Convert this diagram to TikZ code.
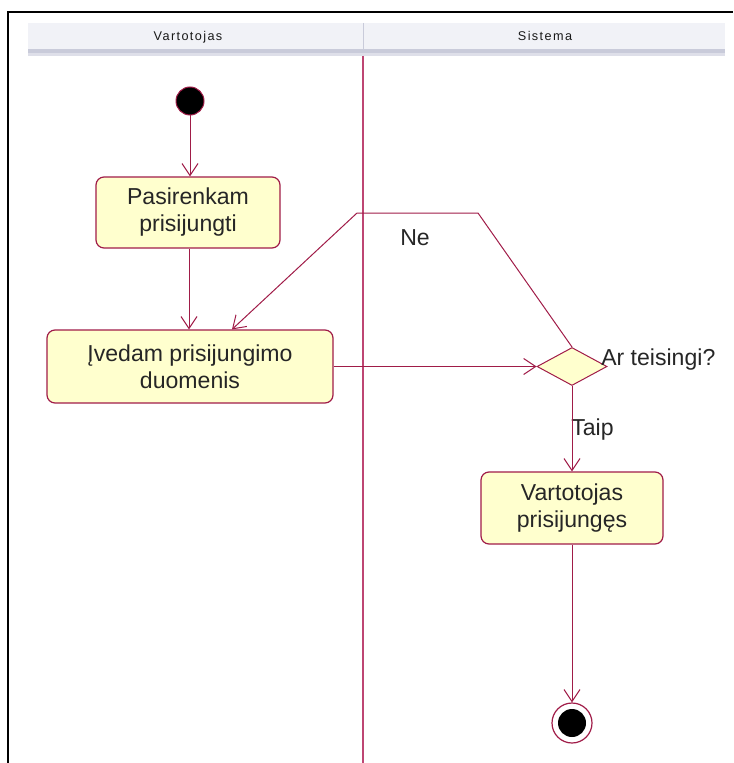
\documentclass[tikz,border=0pt]{standalone}
\usepackage{fontspec}
\setmainfont{Liberation Sans}
\usetikzlibrary{shapes.geometric,arrows.meta}
\definecolor{umlline}{RGB}{160,28,72}
\definecolor{laneline}{RGB}{190,70,115}
\definecolor{actfill}{RGB}{255,255,206}
\definecolor{headfill}{RGB}{241,242,247}
\definecolor{headedge}{RGB}{201,203,218}
\definecolor{headedgelt}{RGB}{222,223,233}
\tikzset{
  x=0.75pt, y=-0.75pt,
  every node/.style={font=\fontsize{17.3}{20.25}\selectfont, text=black!85},
  action/.style={draw=umlline, line width=0.9pt, fill=actfill, rounded corners=6pt,
    align=center, inner sep=0pt},
  decision/.style={diamond, draw=umlline, line width=0.75pt, fill=actfill,
    minimum width=52.5pt, minimum height=28.5pt, inner sep=0pt},
  startnode/.style={circle, draw=umlline, fill=black, line width=0.75pt,
    minimum size=21pt, inner sep=0pt},
  endnode/.style={circle, draw=umlline, fill=white, line width=0.9pt,
    minimum size=30pt, inner sep=0pt},
  flow/.style={draw=umlline, line width=0.75pt,
    -{Straight Barb[length=9pt,width=12pt,line width=0.75pt]}},
  lanehead/.style={font=\fontsize{9.5}{11}\selectfont\addfontfeature{LetterSpace=11},
    text=black!90, anchor=base},
  guard/.style={anchor=base west, inner sep=0pt}
}
\begin{document}
\begin{tikzpicture}
\useasboundingbox (0,0) rectangle (733,763);
% frame of the window
\draw[line width=1.6pt, black] (8,763) -- (8,12) -- (733,12);
% swimlane header band
\fill[headfill] (28,23) rectangle (725,56);
\fill[headedge] (28,49) rectangle (725,53);
\fill[headedgelt] (28,53) rectangle (725,56);
\draw[headedge, line width=0.75pt] (363,23) -- (363,49);
\node[lanehead] (laneA) at (188,41) {Vartotojas};
\node[lanehead] (laneB) at (545,41) {Sistema};
% swimlane separator
\draw[laneline, line width=1.1pt] (363,56) -- (363,763);

% activity nodes
\node[startnode] (start) at (190,101) {};
\node[action, minimum width=138pt, minimum height=53.25pt] (pick) at (188,212.5)
  {Pasirenkam\\prisijungti};
\node[action, minimum width=214.5pt, minimum height=54.75pt] (enter) at (190,366.5)
  {Įvedam prisijungimo\\duomenis};
\node[decision] (check) at (572,366.5) {};
\node[action, minimum width=136.5pt, minimum height=54pt] (done) at (572,508)
  {Vartotojas\\prisijungęs};
\node[endnode] (stop) at (572,723) {};
\fill[black] (stop.center) circle (10.5pt);

% labels
\node[guard] (qlabel) at (601,365) {Ar teisingi?};
\node[guard] (nolabel) at (400,245) {Ne};
\node[guard] (yeslabel) at (571,435) {Taip};

% loop corners
\coordinate (ne1) at (478,213);
\coordinate (ne2) at (357,213);

% transitions
\draw[flow] (start.south) -- (start.south |- pick.north);
\draw[flow] ([xshift=0.75pt]pick.south) -- ([xshift=0.75pt]pick.south |- enter.north);
\draw[flow] (enter.east) -- (check.west);
\draw[flow] (check.north) -- (ne1) -- (ne2) -- ([xshift=31.5pt]enter.north);
\draw[flow] (check.south) -- (done.north);
\draw[flow] (done.south) -- (done.south |- stop.north);
\end{tikzpicture}
\end{document}
